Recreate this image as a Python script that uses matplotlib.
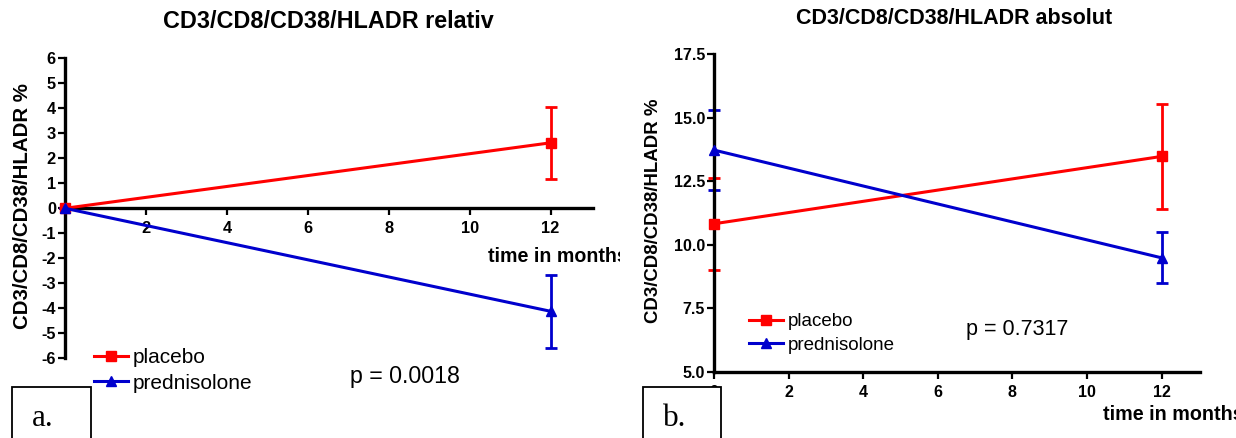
import matplotlib
matplotlib.use("Agg")
import matplotlib.pyplot as plt
from matplotlib.patches import Rectangle
from matplotlib.transforms import Bbox

# ---- data -------------------------------------------------------------
months = [0, 12]
groups = ["placebo", "prednisolone"]

rel_placebo = [0.0, 2.62]
rel_placebo_err = [0.0, 1.43]
rel_prednisolone = [0.0, -4.12]
rel_prednisolone_err = [0.0, 1.46]

abs_placebo = [10.82, 13.47]
abs_placebo_err = [1.80, 2.08]
abs_prednisolone = [13.72, 9.48]
abs_prednisolone_err = [1.58, 1.00]

rel_yticks = list(range(-6, 7))
abs_yticks = [5.0, 7.5, 10.0, 12.5, 15.0, 17.5]
rel_xticks = [2, 4, 6, 8, 10, 12]
abs_xticks = [0, 2, 4, 6, 8, 10, 12]

titles = ["CD3/CD8/CD38/HLADR relativ", "CD3/CD8/CD38/HLADR absolut"]
ylabel = "CD3/CD8/CD38/HLADR %"
xlabel = "time in months"
p_values = ["p = 0.0018", "p = 0.7317"]
panel_tags = ["a.", "b."]

RED = "#ff0000"
BLUE = "#0000cd"

plt.rcParams["font.family"] = ["Liberation Sans", "DejaVu Sans"]
plt.rcParams["axes.unicode_minus"] = False

W, H = 1236, 438
fig = plt.figure(figsize=(W / 100, H / 100), dpi=100)


def fx(x):
    return x / W


def fy(y):
    return 1 - y / H


def style_axes(ax, xticks, yticks, ylabels, labelsize):
    for s in ("top", "right"):
        ax.spines[s].set_visible(False)
    for s in ("left", "bottom"):
        ax.spines[s].set_linewidth(2.4)
        ax.spines[s].set_zorder(2.5)
    ax.set_xticks(xticks, labels=[str(t) for t in xticks],
                  fontweight="bold", fontsize=labelsize)
    ax.set_yticks(yticks, labels=ylabels, fontweight="bold", fontsize=labelsize)
    ax.tick_params(axis="y", direction="out", length=5, width=1.6, pad=1.5)
    ax.tick_params(axis="x", direction="out", length=5, width=1.6, pad=4.5)
    ax.patch.set_visible(False)


def draw_series(ax, vals, errs, color, marker, label):
    ax.errorbar(months, vals, yerr=errs, fmt="none", ecolor=color,
                elinewidth=2.0, capsize=4.5, capthick=2.0, zorder=2,
                clip_on=False)
    ax.plot(months, vals, color=color, lw=2.2, marker=marker, ms=7.3,
            label=label, zorder=3, clip_on=False)


# ---- panel a: relative change -----------------------------------------
ax_a = fig.add_axes([fx(65), fy(358.3), fx(527.7), 300 / H])
ax_a.set_xlim(0, 13.04)
ax_a.set_ylim(-6, 6)
ax_a.spines["bottom"].set_position(("data", 0))
style_axes(ax_a, rel_xticks, rel_yticks, [str(t) for t in rel_yticks], 11.8)
draw_series(ax_a, rel_placebo, rel_placebo_err, RED, "s", groups[0])
draw_series(ax_a, rel_prednisolone, rel_prednisolone_err, BLUE, "^", groups[1])
ax_a.legend(loc="upper left", bbox_to_anchor=(fx(94), fy(348)),
            bbox_transform=fig.transFigure, frameon=False, fontsize=15,
            handlelength=1.65, handletextpad=0.2, labelspacing=0.32,
            borderpad=0, borderaxespad=0, numpoints=1)

fig.text(fx(328), fy(21), titles[0], ha="center", va="center",
         fontsize=16.8, fontweight="bold")
fig.text(fx(23), fy(206.5), ylabel, ha="center", va="center", rotation=90,
         fontsize=14.7, fontweight="bold")
t_a = fig.text(fx(488), fy(257), xlabel, ha="left", va="center",
               fontsize=14.1, fontweight="bold")
t_a.set_clip_box(Bbox.from_extents(0, 0, 620, H))
t_a.set_clip_on(True)
fig.text(fx(350), fy(377), p_values[0], ha="left", va="center", fontsize=16.7)

# ---- panel b: absolute values -----------------------------------------
ax_b = fig.add_axes([fx(714), fy(371.7), fx(486), 317.7 / H])
ax_b.set_xlim(0, 13.03)
ax_b.set_ylim(5, 17.5)
style_axes(ax_b, abs_xticks, abs_yticks, [f"{t:.1f}" for t in abs_yticks], 11.5)
draw_series(ax_b, abs_placebo, abs_placebo_err, RED, "s", groups[0])
draw_series(ax_b, abs_prednisolone, abs_prednisolone_err, BLUE, "^", groups[1])
ax_b.legend(loc="upper left", bbox_to_anchor=(fx(749), fy(313)),
            bbox_transform=fig.transFigure, frameon=False, fontsize=13.5,
            handlelength=1.8, handletextpad=0.25, labelspacing=0.36,
            borderpad=0, borderaxespad=0, numpoints=1)

fig.text(fx(954), fy(19), titles[1], ha="center", va="center",
         fontsize=15.5, fontweight="bold")
fig.text(fx(654), fy(210.5), ylabel, ha="center", va="center", rotation=90,
         fontsize=13.4, fontweight="bold")
fig.text(fx(1103), fy(415), xlabel, ha="left", va="center",
         fontsize=14.2, fontweight="bold")
fig.text(fx(966), fy(329), p_values[1], ha="left", va="center", fontsize=15.5)

# ---- panel tags --------------------------------------------------------
for x0, x1, tag in [(12, 91, panel_tags[0]), (643, 721, panel_tags[1])]:
    fig.add_artist(Rectangle((fx(x0), fy(445)), fx(x1 - x0), (445 - 387) / H,
                             transform=fig.transFigure, facecolor="white",
                             edgecolor="black", lw=1.3, zorder=10))
    fig.text(fx(x0 + 20), fy(418), tag, ha="left", va="center",
             fontsize=22.5, family=["Liberation Serif", "DejaVu Serif"],
             zorder=11)

fig.savefig("out.png", dpi=100)
